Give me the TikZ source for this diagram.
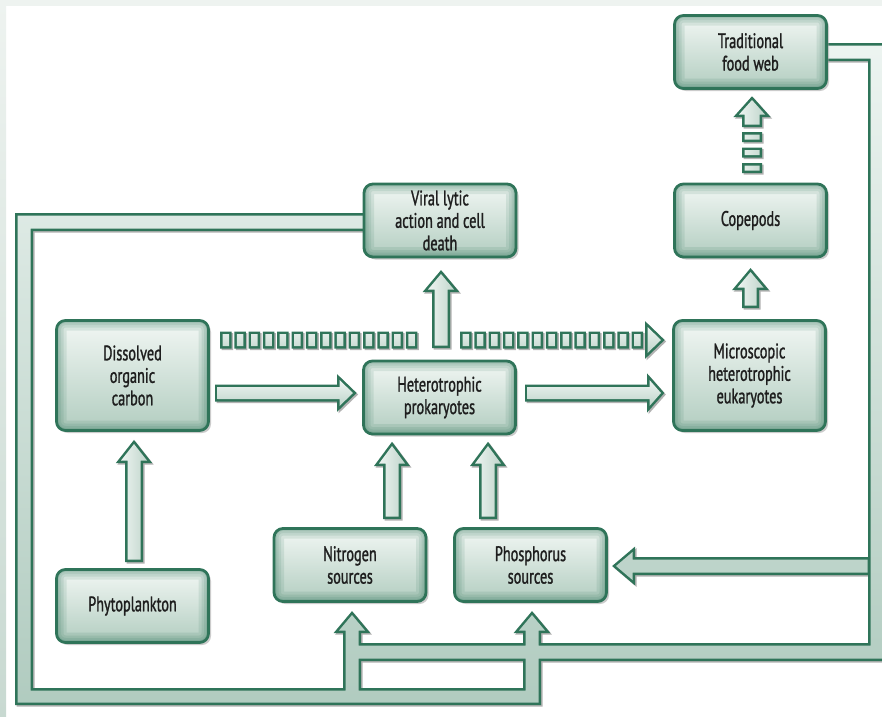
\documentclass[tikz,border=0pt]{standalone}
\usepackage{fontspec}
\newfontfamily\labelfont{PT Sans}[FakeStretch=0.68, FakeBold=1.2]
\usetikzlibrary{shadows}

\definecolor{dkgreen}{HTML}{2F7459}
\definecolor{pipetop}{HTML}{EEF5F2}
\definecolor{pipebot}{HTML}{B0CBBF}
\definecolor{boxtop}{HTML}{F2F7F4}
\definecolor{boxbot}{HTML}{B2CDC0}
\definecolor{arrtop}{HTML}{F4F8F6}
\definecolor{arrbot}{HTML}{B9D1C6}
\definecolor{txt}{HTML}{1E1E1E}
\definecolor{stripcol}{HTML}{EEF3F0}
\definecolor{stripbot}{HTML}{C8D9D1}

% Polygons are given by their outer edges; the 5pt outline stroke adds the
% last 2.5pt. All are traced clockwise so that a clip takes their union.
% rectangle: x1 y1 x2 y2
\newcommand\rectpoly[4]{(#1+2.5,#2+2.5) -- (#3-2.5,#2+2.5) -- (#3-2.5,#4-2.5) -- (#1+2.5,#4-2.5) -- cycle}
% arrow heads: (centre or tip) ... half width
\newcommand\headup[4]{(#1,#2+4) -- (#1+#4-4,#3-2.5) -- (#1-#4+4,#3-2.5) -- cycle}
\newcommand\headright[4]{(#3+2.5,#2-#4+4) -- (#1-4,#2) -- (#3+2.5,#2+#4-4) -- cycle}
\newcommand\headleft[4]{(#1+4,#2) -- (#3-2.5,#2-#4+4) -- (#3-2.5,#2+#4-4) -- cycle}

% return pipes
\newcommand\pipepath{%
  \rectpoly{15}{213}{375}{231}
  \rectpoly{15}{213}{33}{705}
  \rectpoly{15}{688}{541}{705}
  \rectpoly{343}{626}{361}{705}
  \rectpoly{523}{626}{541}{705}
  \headup{352}{611}{633}{17}
  \headup{532}{611}{633}{17}
  \rectpoly{343}{643}{890}{661}
  \rectpoly{868}{43}{890}{661}
  \rectpoly{815}{43}{890}{61}
  \rectpoly{628}{557}{870}{575}
  \headleft{612}{566}{635}{18}}

% block arrows
\newcommand\arrdoc{\rectpoly{215}{384.5}{343}{401.5} \headright{357}{393}{337}{17}}
\newcommand\arrmicro{\rectpoly{525}{384.5}{653}{401.5} \headright{665}{393}{647}{17}}
\newcommand\arrviral{\rectpoly{432}{285}{450}{348} \headup{441}{270}{292}{17}}
\newcommand\arrphyto{\rectpoly{125}{456}{143}{562} \headup{134}{440}{463}{17}}
\newcommand\arrnitro{\rectpoly{383}{459}{401}{519} \headup{392}{442}{466}{17}}
\newcommand\arrphos{\rectpoly{479}{459}{497}{519} \headup{488}{442}{466}{17}}
\newcommand\arrcope{\rectpoly{742}{283}{759}{308} \headup{750.5}{268}{290}{17}}
\newcommand\arrweb{\headup{752}{96}{117}{17} \rectpoly{742}{110}{762}{127}
  \rectpoly{742}{132}{762}{142} \rectpoly{742}{147.5}{762}{157.5} \rectpoly{742}{163}{762}{173}}
\newcommand\arrdash{%
  \foreach \i in {0,...,13}{\rectpoly{220+14.3*\i}{331.5}{231.5+14.3*\i}{348.5}}
  \foreach \i in {0,...,12}{\rectpoly{460+14.3*\i}{331.5}{471.5+14.3*\i}{348.5}}
  \headright{665}{340}{645}{17}}

\newcommand\arrowsall{\arrdoc \arrmicro \arrviral \arrphyto \arrnitro \arrphos \arrcope \arrweb \arrdash}

\tikzset{
  box/.style={draw=dkgreen, line width=2.8pt, rounded corners=9pt,
    top color=boxtop, bottom color=boxbot,
    minimum width=152pt, minimum height=73pt, align=center, text=txt,
    font=\labelfont\fontsize{21pt}{22.5pt}\selectfont, inner sep=0pt,
    drop shadow={shadow xshift=2.5pt, shadow yshift=-2.5pt, fill=black!40, opacity=.5},
    path picture={\foreach \w in {20,14,9,5}{\draw[dkgreen, opacity=.12, line width=\w pt, rounded corners=9pt]
      (path picture bounding box.south west) rectangle (path picture bounding box.north east);}}},
  tallbox/.style={minimum height=110pt},
  outline/.style={dkgreen, line width=5pt, line join=miter},
  outshadow/.style={black!30, line width=5pt, line join=miter, shift={(1.5,1.5)}}
}

\begin{document}
\begin{tikzpicture}[x=1pt, y=-1pt]
\useasboundingbox (0,0) rectangle (882,716);
\fill[white] (0,0) rectangle (882,716);
\fill[stripcol] (0,0) rectangle (882,5.5);
\shade[top color=stripcol, bottom color=stripbot] (0,0) rectangle (6,716);

% outlines of pipes and arrows
\filldraw[outshadow] \pipepath \arrowsall;
\filldraw[outline] \pipepath \arrowsall;

% pipe interiors
\begin{scope}
  \clip \pipepath;
  \shade[top color=pipetop, bottom color=pipebot] (0,30) rectangle (890,710);
\end{scope}

% arrow interiors
\begin{scope}\clip \arrdoc; \shade[top color=arrtop, bottom color=arrbot] (210,377) rectangle (360,409);\end{scope}
\begin{scope}\clip \arrmicro; \shade[top color=arrtop, bottom color=arrbot] (520,377) rectangle (668,409);\end{scope}
\begin{scope}\clip \arrdash; \shade[top color=arrtop, bottom color=arrbot] (215,323) rectangle (668,357);\end{scope}
\begin{scope}\clip \arrviral; \shade[left color=arrtop, right color=arrbot] (424,268) rectangle (459,350);\end{scope}
\begin{scope}\clip \arrphyto; \shade[left color=arrtop, right color=arrbot] (117,438) rectangle (151,564);\end{scope}
\begin{scope}\clip \arrnitro; \shade[left color=arrtop, right color=arrbot] (375,440) rectangle (409,521);\end{scope}
\begin{scope}\clip \arrphos; \shade[left color=arrtop, right color=arrbot] (471,440) rectangle (505,521);\end{scope}
\begin{scope}\clip \arrcope; \shade[left color=arrtop, right color=arrbot] (733,266) rectangle (768,310);\end{scope}
\begin{scope}\clip \arrweb; \shade[left color=arrtop, right color=arrbot] (735,94) rectangle (769,175);\end{scope}

% boxes
\node[box] (trad) at (750.5,52) {Traditional\\food web};
\node[box] (cope) at (750.5,220.5) {Copepods};
\node[box] (viral) at (440,220.5) {Viral lytic\\action and cell\\death};
\node[box, tallbox] (doc) at (132.5,375.5) {Dissolved\\organic\\carbon};
\node[box] (het) at (439.5,397.5) {Heterotrophic\\prokaryotes};
\node[box, tallbox] (micro) at (749.5,375.5) {Microscopic\\heterotrophic\\eukaryotes};
\node[box] (phyto) at (132.5,606) {Phytoplankton};
\node[box] (nitro) at (350,565) {Nitrogen\\sources};
\node[box] (phos) at (530.5,565) {Phosphorus\\sources};
\end{tikzpicture}
\end{document}
